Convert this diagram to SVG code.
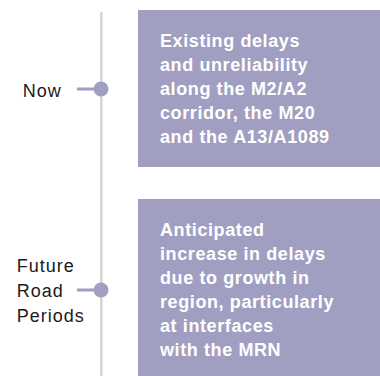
<svg xmlns="http://www.w3.org/2000/svg" width="380" height="376" viewBox="0 0 380 376">
<style>
.box{fill:#a19fc1}
.bt{font-family:"Liberation Sans",Arial,sans-serif;font-weight:bold;font-size:18px;fill:#ffffff;letter-spacing:0.6px}
.lt{font-family:"Liberation Sans",Arial,sans-serif;font-size:18px;fill:#1a1a1a;letter-spacing:1px}
.tick{stroke:#a19fc1;stroke-width:3}
.dot{fill:#a19fc1}
.axis{stroke:#d4d4d4;stroke-width:2.5}
</style>
<rect width="380" height="376" fill="#ffffff"/>
<g id="connectors">
<line class="axis" x1="101.3" y1="12" x2="101.3" y2="376"/>
<line class="tick" x1="77" y1="89" x2="101" y2="89"/>
<line class="tick" x1="77" y1="290" x2="101" y2="290"/>
</g>
<g id="node-now">
<circle class="dot" cx="101" cy="89" r="7.5"/>
<text class="lt" x="22.7" y="96.5">Now</text>
</g>
<g id="node-future">
<circle class="dot" cx="101" cy="290" r="7.5"/>
<text class="lt" x="16.7" y="272">Future</text>
<text class="lt" x="16.7" y="297">Road</text>
<text class="lt" x="16.7" y="322">Periods</text>
</g>
<g id="box-existing">
<rect class="box" x="138" y="10" width="242" height="157"/>
<text class="bt" x="160" y="46.5">Existing delays</text>
<text class="bt" x="160" y="70.5">and unreliability</text>
<text class="bt" x="160" y="94.5">along the M2/A2</text>
<text class="bt" x="160" y="118.5">corridor, the M20</text>
<text class="bt" x="160" y="142.5">and the A13/A1089</text>
</g>
<g id="box-anticipated">
<rect class="box" x="138" y="199" width="242" height="177"/>
<text class="bt" x="160" y="236">Anticipated</text>
<text class="bt" x="160" y="260">increase in delays</text>
<text class="bt" x="160" y="284">due to growth in</text>
<text class="bt" x="160" y="308">region, particularly</text>
<text class="bt" x="160" y="332">at interfaces</text>
<text class="bt" x="160" y="356">with the MRN</text>
</g>
</svg>
